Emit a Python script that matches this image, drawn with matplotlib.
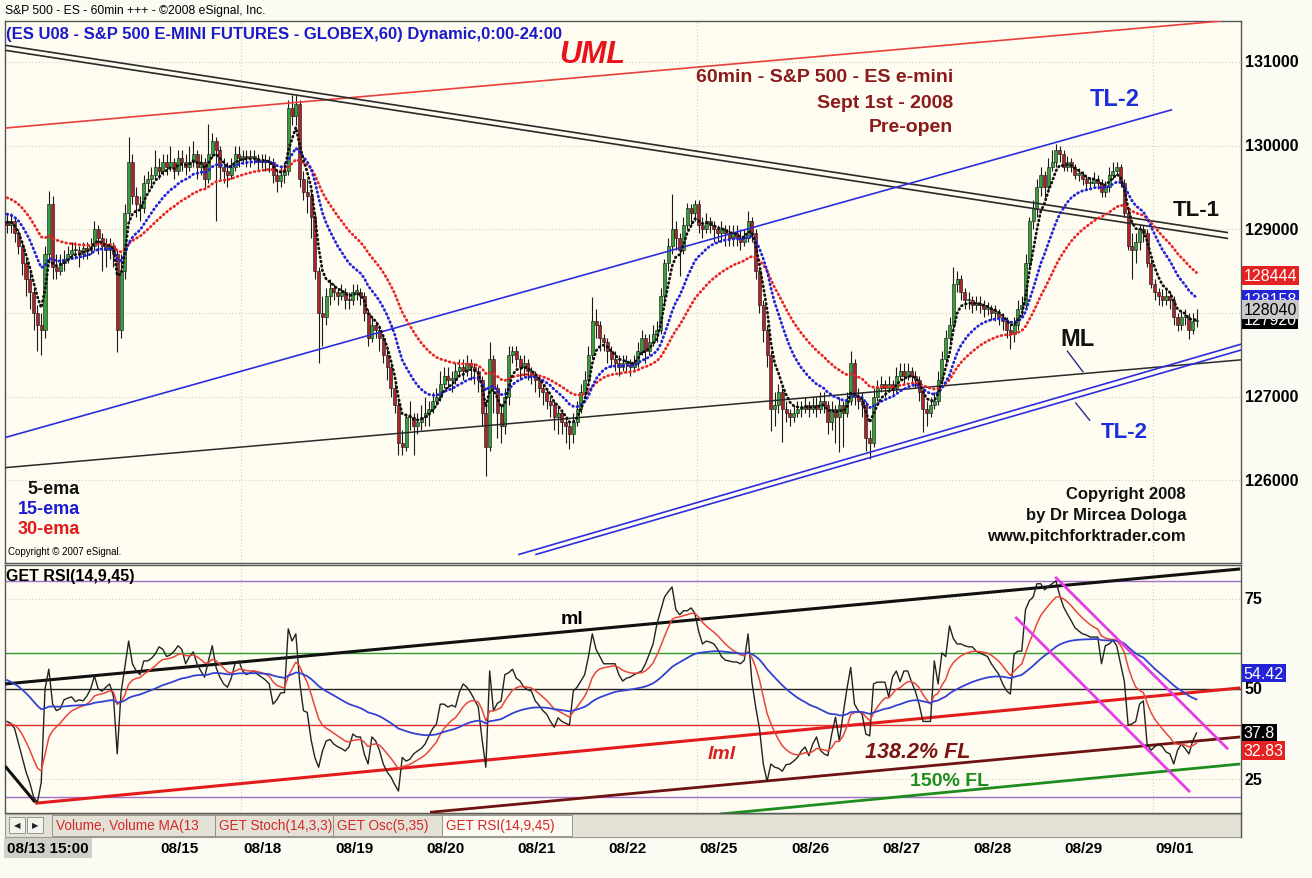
import numpy as np
import matplotlib
matplotlib.use("Agg")
import matplotlib.pyplot as plt
from matplotlib.patches import Rectangle
from matplotlib.lines import Line2D

plt.rcParams["font.family"] = ["Liberation Sans", "DejaVu Sans"]

# ES U08 hourly bars, 08/13 15:00 -> 09/01 (index points)
close = [
    1290.5, 1291, 1289.5, 1288, 1286, 1284, 1282.5, 1280, 1278.5, 1278,
    1287, 1293, 1285.5, 1285, 1286, 1286.5, 1287, 1287.5, 1287.5, 1287,
    1287.8, 1287.5, 1288, 1290, 1289, 1288, 1287.5, 1288, 1287, 1278,
    1285, 1292, 1298, 1294, 1293, 1292.5, 1295.5, 1296, 1296.5, 1297.5,
    1297, 1298, 1297.5, 1298, 1297, 1298.5, 1298, 1297.5, 1298, 1299,
    1297.5, 1298, 1296, 1299, 1300.5, 1299.5, 1297.5, 1297, 1296.5, 1297.5,
    1299, 1298.5, 1298.8, 1298.5, 1298.5, 1298.5, 1298, 1298.2, 1298, 1298,
    1296.5, 1295.8, 1296.5, 1297, 1304.5, 1303.5, 1305, 1296, 1294.5, 1294,
    1291.5, 1285, 1280, 1279.5, 1282, 1283, 1282.5, 1282, 1282.5, 1281.5,
    1281.5, 1282.5, 1282.5, 1282, 1280, 1277, 1278.5, 1278, 1277, 1275,
    1273.5, 1271, 1269, 1264.5, 1264, 1267.5, 1267.5, 1266.5, 1267, 1267.5,
    1268, 1268.5, 1269.5, 1270, 1271.5, 1272.5, 1272, 1272, 1273, 1273.5,
    1273, 1274, 1273.5, 1273, 1272, 1268, 1264, 1274.5, 1271, 1268,
    1266.5, 1270, 1275, 1275.5, 1274.5, 1273.5, 1274, 1273, 1272.5, 1272,
    1271, 1270.5, 1269.5, 1269, 1267.5, 1268, 1267, 1266.5, 1265.5, 1267,
    1268.5, 1270.5, 1272, 1275, 1279, 1278.5, 1277, 1276.5, 1275.5, 1274.5,
    1274, 1273.5, 1274, 1274, 1273.5, 1274, 1275.5, 1277, 1275.5, 1276.5,
    1277.5, 1278, 1282, 1286, 1288, 1290, 1289, 1287.5, 1290.5, 1292.5,
    1292, 1293, 1290.5, 1290, 1291, 1290.5, 1290, 1289.5, 1290, 1289.5,
    1289, 1289.5, 1289, 1288.5, 1289, 1291, 1289.5, 1285, 1281, 1278,
    1275, 1268.5, 1269, 1270.5, 1268.5, 1268, 1267.5, 1268, 1268.5, 1268.5,
    1269, 1268.5, 1269, 1268.5, 1269.5, 1269, 1267, 1268.5, 1267.5, 1269,
    1268, 1269.5, 1274, 1270, 1269.5, 1269, 1265, 1264.5, 1270, 1271,
    1271.5, 1271, 1271.5, 1271, 1272.5, 1273, 1272.5, 1273, 1272.5, 1272,
    1270.5, 1268.5, 1268, 1269, 1269.5, 1272, 1274.5, 1277, 1278.5, 1283.5,
    1284, 1282.5, 1281.5, 1281.5, 1281, 1281.2, 1281, 1280.5, 1280.5, 1280,
    1280, 1279.5, 1279, 1278, 1277.5, 1278.5, 1280.5, 1281, 1286, 1291,
    1292.5, 1295, 1296.5, 1295, 1297.5, 1298, 1299.5, 1299, 1297.5, 1298,
    1297.5, 1296.5, 1296.5, 1296, 1295.5, 1295.5, 1296, 1295.5, 1294.5, 1295,
    1296.5, 1297, 1297.5, 1295.5, 1292, 1288, 1287.5, 1288.5, 1290, 1289.5,
    1286, 1283.5, 1282.5, 1282, 1281.5, 1282, 1281.5, 1279.5, 1278.5, 1279.5,
    1279.5, 1278, 1279, 1279.2,
]
high = [
    1292, 1292, 1291.5, 1290, 1288.5, 1286.5, 1285, 1283, 1281, 1280,
    1288, 1294.6, 1294, 1287, 1287, 1287.5, 1288, 1288.5, 1288.5, 1288,
    1288.5, 1288.5, 1289, 1291, 1290.5, 1289.5, 1289, 1289, 1288.5, 1287.5,
    1287, 1293, 1301, 1299, 1295, 1294, 1296.5, 1297, 1297.5, 1299.5,
    1298.5, 1299, 1299, 1300, 1298.5, 1299.5, 1299.5, 1299, 1300, 1300.5,
    1299.5, 1299, 1298.5, 1302.6, 1301.5, 1301, 1300, 1298.5, 1298, 1298.5,
    1300, 1300, 1299.5, 1299.5, 1299.5, 1299.5, 1299, 1299, 1299, 1298.8,
    1298.5, 1297, 1297.5, 1298, 1305.5, 1306, 1306, 1305.5, 1297, 1296,
    1294.5, 1292, 1285.5, 1282, 1283, 1284, 1283.5, 1283, 1283.5, 1283,
    1282.5, 1283.5, 1283.5, 1283, 1282.5, 1280.5, 1279.5, 1279, 1278.5, 1277.5,
    1276, 1274, 1271.5, 1269.5, 1266, 1268, 1269.5, 1268, 1268, 1269,
    1270, 1269.5, 1270.5, 1271, 1273, 1273.5, 1273.5, 1273, 1274, 1274.5,
    1274.5, 1275, 1274.5, 1274, 1273.5, 1272.5, 1269, 1276.5, 1275, 1271.5,
    1269, 1271, 1276, 1276, 1276, 1275, 1275, 1274.5, 1273.5, 1273,
    1272.5, 1271.5, 1271, 1270, 1269.5, 1269, 1268.5, 1267.5, 1267, 1268,
    1269.5, 1271.5, 1273, 1276, 1281.9, 1280.5, 1279, 1277.5, 1277, 1276,
    1275.5, 1275, 1275, 1275, 1274.5, 1275, 1276.5, 1278, 1277.5, 1277.5,
    1278.5, 1279, 1283, 1286.5, 1289, 1294.2, 1291, 1289.5, 1291.5, 1293.2,
    1293, 1293.5, 1293.5, 1291.5, 1292, 1291.5, 1291, 1290.5, 1291, 1290.5,
    1290.5, 1290.5, 1290.5, 1290, 1290, 1292.2, 1291.5, 1290, 1285.5, 1281.5,
    1278.5, 1275.5, 1270.5, 1271.5, 1271, 1269.5, 1268.5, 1269, 1269.5, 1269.5,
    1270, 1269.5, 1270, 1270, 1270.5, 1270.5, 1269.5, 1269.5, 1269, 1270,
    1269.5, 1270.5, 1275.5, 1274.5, 1271, 1270.5, 1269.5, 1266, 1271, 1272,
    1272.5, 1272, 1272.5, 1272, 1273.5, 1274, 1274, 1274, 1273.5, 1273,
    1272.5, 1271, 1269.5, 1270, 1270.5, 1273, 1275.5, 1278, 1279.5, 1285.5,
    1285, 1284.5, 1283, 1282.5, 1282, 1282, 1282, 1281.5, 1281.3, 1281,
    1281, 1280.5, 1280, 1279.5, 1278.5, 1279.5, 1281.5, 1282, 1287, 1291.5,
    1293.5, 1296, 1297.5, 1297, 1298.5, 1299.5, 1300.2, 1300, 1299.5, 1298.8,
    1298.5, 1297.8, 1297.3, 1297, 1296.5, 1296.3, 1296.8, 1296.5, 1296, 1295.8,
    1297.5, 1298, 1298, 1297.8, 1296, 1292.5, 1289.5, 1289.5, 1290.5, 1290.5,
    1290, 1286.5, 1284, 1283, 1282.8, 1283, 1282.5, 1282, 1280, 1280.3,
    1280.5, 1280, 1280, 1280.5,
]
low = [
    1289.5, 1289.5, 1288.5, 1287, 1284.5, 1282, 1280.5, 1278, 1275.5, 1275,
    1277, 1286, 1284, 1284, 1284.5, 1285, 1286, 1286.5, 1286.5, 1285.5,
    1286.5, 1286.5, 1287, 1287.5, 1287, 1285, 1285.5, 1286.5, 1285.5, 1275.3,
    1277, 1284, 1291, 1293, 1291.5, 1291, 1292, 1294.5, 1295, 1296,
    1296, 1296.5, 1296.5, 1297, 1296, 1296.5, 1297, 1296.5, 1297, 1297.5,
    1296, 1296.5, 1295, 1295.5, 1298.5, 1291, 1296, 1295.5, 1295, 1296,
    1297, 1297.5, 1297.8, 1297.5, 1297.5, 1297.8, 1297, 1297.3, 1297, 1296.8,
    1295.5, 1294.5, 1295, 1295.5, 1296.5, 1302.5, 1302.5, 1295, 1293.5, 1292,
    1289, 1284, 1274, 1276, 1278.5, 1281, 1281.5, 1281, 1281.5, 1280.5,
    1280.5, 1281, 1281.5, 1281, 1279, 1276, 1276.5, 1277, 1275.5, 1274,
    1272, 1270, 1268, 1263, 1263, 1263.5, 1266, 1263, 1265.5, 1266,
    1266.5, 1266.5, 1268, 1269, 1269.5, 1271, 1271, 1270.5, 1271.5, 1272.5,
    1272, 1272.5, 1272, 1271.5, 1270.5, 1266.5, 1260.5, 1263.5, 1268, 1265,
    1264.5, 1265.5, 1269, 1274, 1273.5, 1272, 1272.5, 1272, 1271.5, 1270.5,
    1270, 1269, 1268.5, 1267.5, 1266, 1265.5, 1265.5, 1264.5, 1263.7, 1264.5,
    1266.5, 1268, 1270, 1271.5, 1274.5, 1277, 1275.5, 1275.5, 1274, 1273.5,
    1273, 1272.5, 1273, 1273, 1272.5, 1273, 1273.5, 1275, 1274, 1275,
    1276, 1276.5, 1277.5, 1281, 1285, 1287, 1287.5, 1284.4, 1287, 1290,
    1290.5, 1291, 1289.5, 1289, 1289.5, 1289.5, 1288.5, 1288.5, 1288.5, 1288,
    1288, 1288, 1288, 1287.5, 1288, 1288.5, 1288.5, 1284, 1280, 1276.5,
    1273.5, 1265.9, 1266.5, 1268, 1264.6, 1267, 1266.5, 1267, 1267.5, 1267.5,
    1268, 1267.5, 1268, 1267.5, 1268, 1268, 1265.5, 1266, 1264.5, 1263.4,
    1264, 1267.5, 1269, 1269, 1268.5, 1267.5, 1263.5, 1262.5, 1264, 1269.5,
    1270.5, 1270, 1270.5, 1270, 1270.5, 1272, 1271.5, 1272, 1271.5, 1271,
    1269.5, 1265.8, 1266.5, 1267.5, 1268.5, 1269, 1271.5, 1274, 1276.5, 1278,
    1282.5, 1281.5, 1280.5, 1280.5, 1280, 1280.3, 1280, 1279.5, 1279.7, 1279.2,
    1279, 1278.5, 1278, 1277, 1275.7, 1276.5, 1278, 1279.5, 1280.5, 1285.5,
    1290, 1291.5, 1294, 1293.5, 1294.5, 1297, 1297.5, 1298, 1297, 1297,
    1296.8, 1296, 1295.8, 1295.3, 1294.8, 1294.8, 1295, 1294.8, 1293.8, 1293.8,
    1294.5, 1296, 1296.5, 1295, 1291.5, 1287.5, 1284, 1286, 1287.5, 1288.5,
    1285.5, 1283, 1281.5, 1281, 1280.8, 1281, 1280.5, 1278.5, 1277.8, 1278,
    1278.5, 1276.9, 1277.5, 1278.3,
]
first_open = 1291.0

# RSI(14) values per bar
rsi = [
    41, 40.5, 39, 35, 31, 27, 24, 20, 18.6, 24,
    50, 55.5, 45.8, 44, 44.5, 47, 47.5, 47.8, 46.5, 47,
    46.7, 48, 50, 53.6, 50, 49.4, 50.5, 51.4, 48, 32,
    49, 56, 63.3, 57, 55, 54, 57.8, 57.8, 58.5, 59.7,
    61.7, 61, 59, 59.5, 60.5, 62, 61, 57, 59, 60.3,
    57, 55, 53.3, 57.8, 62, 56, 53.3, 51.4, 50.5, 53,
    57, 57.8, 55, 54, 54.5, 55, 54, 53.3, 52.5, 51.4,
    45.8, 47, 48.9, 49, 66.7, 63.3, 65.3, 52, 44, 43.5,
    36, 31, 28.3, 32.8, 35.6, 36, 34.7, 34, 33.5, 32.8,
    34, 37.5, 36.7, 36.7, 32, 29.2, 36.7, 35.6, 33, 29.2,
    27, 25.6, 23.5, 21.7, 31, 30, 30.5, 32, 32.8, 33.5,
    34.7, 37, 39, 40.3, 45.8, 45.8, 45, 45.5, 45, 49,
    51.4, 50.5, 49, 47, 45, 36, 28.3, 55, 44, 46,
    46.7, 54, 54.5, 55.5, 53, 52.2, 50.5, 49.8, 49.4, 46.7,
    45.5, 44, 43, 41, 39.4, 42, 41, 40.5, 40, 49.4,
    50.5, 52.2, 54, 59, 65.3, 61, 59, 57, 57, 57,
    57, 54, 52.2, 53, 53.3, 54, 54.5, 55, 57, 59.7,
    62.5, 68, 71.7, 75.5, 77, 78.3, 72, 70.6, 71.7, 71.7,
    72.5, 71, 66, 62.5, 63.3, 63, 62.5, 61, 59, 58,
    57.8, 57.5, 57.5, 57, 58, 65.3, 52, 45, 39, 29.2,
    24.4, 29.2, 28.3, 28, 27.2, 29, 29.2, 30, 31, 32.8,
    33.9, 31.5, 34.7, 36.7, 33, 32, 31.5, 37.5, 42.2, 35.6,
    43, 50, 56, 45.8, 44, 43, 37.5, 37, 51.4, 51.9,
    51.9, 51.9, 47.8, 53.3, 55, 52, 55, 55, 52, 49.4,
    45.8, 41, 41, 41, 57.8, 51.4, 60, 59, 67.5, 64,
    62.5, 62.5, 62, 61.7, 61.7, 60.5, 60, 59.5, 59, 57,
    55.5, 54, 51.4, 49.5, 48.6, 59.7, 60.5, 60.5, 72, 74.5,
    75.5, 79.2, 79.2, 77.5, 78.5, 79.2, 80, 76, 72.8, 70.8,
    69, 67, 66.1, 65.3, 65, 64.4, 64.4, 64.4, 57, 62,
    62.5, 63.5, 62, 57, 52.2, 40, 40.3, 41, 45.8, 46.7,
    34.7, 33, 34, 34.7, 34, 32.5, 32, 29.2, 33, 34.7,
    33.5, 32, 35.6, 37.8,
]

# starting values of the averages at the left edge
ema_seed = {5: 1291.0, 15: 1292.0, 30: 1294.0}
rsi_avg_seed = {9: 40.0, 45: 53.0}

day_labels = ["08/13 15:00", "08/15", "08/18", "08/19", "08/20", "08/21", "08/22",
              "08/25", "08/26", "08/27", "08/28", "08/29", "09/01"]
day_pos = [0, 40, 62, 86, 110, 134, 158, 182, 206, 230, 254, 278, 302]
week_pos = [62, 182, 302]

# hand drawn lines (bar index, price)
uml = [(-0.5, 1302.1), (319.5, 1314.9)]
tl1_a = [(-0.5, 1312.0), (321.3, 1289.6)]
tl1_b = [(-0.5, 1311.4), (321.3, 1288.9)]
tl2_up = [(-0.5, 1265.1), (306.6, 1304.3)]
ml_line = [(-0.5, 1261.5), (325, 1274.4)]
tl2_lo_a = [(134.5, 1251.1), (325, 1276.3)]
tl2_lo_b = [(139, 1251.1), (325, 1275.6)]
ptr_ml = [(278.9, 1275.5), (283.2, 1272.9)]
ptr_tl2 = [(281.1, 1269.3), (285, 1267.1)]

# hand drawn lines on RSI (bar index, RSI)
rsi_ml = [(-0.5, 51.4), (324.5, 83.3)]
rsi_ml_left = [(-0.5, 28.6), (7.4, 18.6)]
rsi_lml = [(7.4, 18.3), (324.5, 50.3)]
fl_1382 = [(111.3, 15.8), (324.5, 36.7)]
fl_150 = [(187.6, 15.3), (324.5, 29.2)]
mag_1 = [(275.8, 81.1), (321.3, 33.3)]
mag_2 = [(265.3, 70.0), (311.3, 21.4)]
rsi_levels = [(80, "#a070c8"), (60, "#2e9a2e"), (50, "#222222"), (40, "#e03030"), (20, "#a070c8")]

price_ticks = [1260, 1270, 1290, 1300, 1310]
last_tags = [("128158", 1281.58, "#2323d8", "white"),
             ("127920", 1279.20, "black", "white"),
             ("128040", 1280.40, "#c9c9c9", "black"),
             ("128444", 1284.44, "#e52222", "white")]
rsi_ticks = [75, 50, 25]
rsi_tags = [("54.42", 54.42, "#2323d8", "white"),
            ("37.8", 37.8, "black", "white"),
            ("32.83", 32.83, "#e52222", "white")]


def ema(vals, n, seed):
    a = 2.0 / (n + 1)
    e = seed
    out = []
    for v in vals:
        e = e + a * (v - e)
        out.append(e)
    return np.array(out)


W, H = 1312, 879
BG = "#fffdf1"
fig = plt.figure(figsize=(W / 100, H / 100), dpi=100, facecolor="#fbfaf3")


def fx(px):
    return px / W


def fy(py):
    return 1 - py / H


ax = fig.add_axes([fx(5), fy(564), fx(1241) - fx(5), fy(22) - fy(564)], facecolor=BG)
ax2 = fig.add_axes([fx(5), fy(814), fx(1241) - fx(5), fy(566) - fy(814)], facecolor=BG)

c = np.array(close)
h = np.array(high)
l = np.array(low)
o = np.concatenate([[first_open], c[:-1]])
idx = np.arange(len(c))
up = c >= o
body = np.where(np.abs(c - o) < 0.2, 0.2, c - o)

# grid
for v in range(1260, 1311, 10):
    ax.axhline(v, color="#cfcfc4", lw=0.8, ls=(0, (1, 2)), zorder=0)
for x in week_pos:
    ax.axvline(x - 0.5, color="#cfcfc4", lw=0.8, ls=(0, (1, 2)), zorder=0)
    ax2.axvline(x - 0.5, color="#cfcfc4", lw=0.8, ls=(0, (1, 2)), zorder=0)
for v in (25, 75):
    ax2.axhline(v, color="#cfcfc4", lw=0.8, ls=(0, (1, 2)), zorder=0)

# candles
ax.vlines(idx, l, h, color="#1a1a1a", lw=0.8, zorder=2)
ax.bar(idx, body, bottom=o, width=0.8, color=np.where(up, "#35a03a", "#a8262b"),
       edgecolor="#111111", linewidth=0.4, zorder=3)

# trend lines
def seg(axis, pts, color, lw, z=4):
    axis.plot([pts[0][0], pts[1][0]], [pts[0][1], pts[1][1]], color=color, lw=lw,
              zorder=z, solid_capstyle="butt")

seg(ax, uml, "#e8403a", 1.2)
seg(ax, tl1_a, "#2a2a2a", 1.2)
seg(ax, tl1_b, "#2a2a2a", 1.2)
seg(ax, tl2_up, "#2d2de0", 1.2)
seg(ax, ml_line, "#2a2a2a", 1.1)
seg(ax, tl2_lo_a, "#2d2de0", 1.2)
seg(ax, tl2_lo_b, "#2d2de0", 1.2)
seg(ax, ptr_ml, "#2a2a80", 1.0)
seg(ax, ptr_tl2, "#2a2a80", 1.0)

# moving averages
dots = dict(ls=(0, (0.3, 1.3)), lw=2.0, dash_capstyle="round", zorder=5)
ax.plot(idx, ema(c, 30, ema_seed[30]), color="#e82525", **dots)
ax.plot(idx, ema(c, 15, ema_seed[15]), color="#2222d8", **dots)
ax.plot(idx, ema(c, 5, ema_seed[5]), color="#111111", **dots)

ax.set_xlim(-0.53, 324.7)
ax.set_ylim(1250.1, 1314.9)
ax.set_xticks([])
ax.set_yticks([])

lab_tr = ax.get_yaxis_transform()
for v in price_ticks:
    ax.text(1.003, v, f"{v * 100:d}", transform=lab_tr, va="center", ha="left",
            fontsize=11.5, fontweight="bold", clip_on=False)
for s, v, fc, tc in last_tags:
    ax.text(1.002, v, s, transform=lab_tr, va="center", ha="left", fontsize=11.5,
            color=tc, clip_on=False,
            bbox=dict(boxstyle="square,pad=0.12", fc=fc, ec="none"))

# RSI panel
r = np.array(rsi)
for v, col in rsi_levels:
    ax2.axhline(v, color=col, lw=1.0, zorder=1)
ax2.plot(idx, r, color="#222222", lw=1.0, zorder=4)
ax2.plot(idx, ema(r, 9, rsi_avg_seed[9]), color="#e8463c", lw=1.1, zorder=4)
ax2.plot(idx, ema(r, 45, rsi_avg_seed[45]), color="#3342d0", lw=1.3, zorder=4)
seg(ax2, rsi_ml, "#111111", 2.2, 3)
seg(ax2, rsi_ml_left, "#111111", 2.2, 3)
seg(ax2, rsi_lml, "#e21c1c", 2.2, 3)
seg(ax2, fl_1382, "#6e1212", 2.0, 3)
seg(ax2, fl_150, "#1e8c1e", 2.0, 3)
seg(ax2, mag_1, "#e23ee2", 2.0, 5)
seg(ax2, mag_2, "#e23ee2", 2.0, 5)
ax2.set_xlim(-0.53, 324.7)
ax2.set_ylim(15.6, 84.4)
ax2.set_xticks([])
ax2.set_yticks([])
lab_tr2 = ax2.get_yaxis_transform()
for v in rsi_ticks:
    ax2.text(1.003, v, str(v), transform=lab_tr2, va="center", ha="left",
             fontsize=11.5, fontweight="bold", clip_on=False)
for s, v, fc, tc in rsi_tags:
    ax2.text(1.002, v, s, transform=lab_tr2, va="center", ha="left", fontsize=11.5,
             color=tc, clip_on=False,
             bbox=dict(boxstyle="square,pad=0.12", fc=fc, ec="none"))

for a in (ax, ax2):
    for sp in a.spines.values():
        sp.set_color("#555555")
        sp.set_linewidth(1.0)

# header and annotations
fig.text(fx(5), fy(11), "S&P 500 - ES - 60min +++ - \u00a92008 eSignal, Inc.", fontsize=8.7,
         va="center", ha="left")
fig.text(fx(6), fy(34), "(ES U08 - S&P 500 E-MINI FUTURES - GLOBEX,60) Dynamic,0:00-24:00",
         fontsize=12, fontweight="bold", color="#1a1ac8", va="center", ha="left")
fig.text(fx(592), fy(55), "UML", fontsize=22, fontweight="bold", fontstyle="italic",
         color="#e8141b", va="center", ha="center")
for yy, s in [(78, "60min - S&P 500 - ES e-mini"), (103, "Sept 1st - 2008"), (128, "Pre-open")]:
    fig.text(fx(953), fy(yy), s, fontsize=14, fontweight="bold", color="#8b1a1a",
             va="center", ha="right")
fig.text(fx(1115), fy(100), "TL-2", fontsize=17, fontweight="bold", color="#1a2fd8",
         va="center", ha="center")
fig.text(fx(1196), fy(210), "TL-1", fontsize=16, fontweight="bold", color="#111111",
         va="center", ha="center")
fig.text(fx(1078), fy(340), "ML", fontsize=17, fontweight="bold", color="#111111",
         va="center", ha="center")
fig.text(fx(1124), fy(433), "TL-2", fontsize=16, fontweight="bold", color="#1a2fd8",
         va="center", ha="center")
for yy, s, col in [(490, "5-ema", "#111111"), (510, "15-ema", "#1a1ad0"), (530, "30-ema", "#e01818")]:
    fig.text(fx(80), fy(yy), s, fontsize=13, fontweight="bold", color=col,
             va="center", ha="right")
fig.text(fx(8), fy(552), "Copyright \u00a9 2007 eSignal.", fontsize=7, va="center", ha="left")
for yy, s in [(495, "Copyright 2008"), (516, "by Dr Mircea Dologa"), (537, "www.pitchforktrader.com")]:
    fig.text(fx(1186), fy(yy), s, fontsize=12, fontweight="bold", color="#111111",
             va="center", ha="right")

fig.text(fx(6), fy(577), "GET RSI(14,9,45)", fontsize=11.5, fontweight="bold", va="center", ha="left")
fig.text(fx(572), fy(620), "ml", fontsize=14, fontweight="bold", va="center", ha="center")
fig.text(fx(722), fy(755), "lml", fontsize=14, fontweight="bold", fontstyle="italic",
         color="#d82020", va="center", ha="center")
fig.text(fx(918), fy(753), "138.2% FL", fontsize=15.5, fontweight="bold", fontstyle="italic",
         color="#7a1515", va="center", ha="center")
fig.text(fx(950), fy(781), "150% FL", fontsize=14, fontweight="bold",
         color="#1e8c1e", va="center", ha="center")

# tab bar
fig.patches.append(Rectangle((fx(5), fy(838)), fx(1241) - fx(5), fy(815) - fy(838),
                             transform=fig.transFigure, fc="#e4e2d6", ec="#9a9a90", lw=0.8))
for x0, s in [(9, "\u25c0"), (27, "\u25b6")]:
    fig.patches.append(Rectangle((fx(x0), fy(834)), fx(16), fy(818) - fy(834),
                                 transform=fig.transFigure, fc="#f4f4ee", ec="#8a8a80", lw=0.6))
    fig.text(fx(x0 + 8), fy(826), s, fontsize=6, ha="center", va="center",
             family="DejaVu Sans", color="#222222")
tabs = [(52, 215, "Volume, Volume MA(13", "#e4e2d6"), (215, 333, "GET Stoch(14,3,3)", "#e4e2d6"),
        (333, 442, "GET Osc(5,35)", "#e4e2d6"), (442, 572, "GET RSI(14,9,45)", "#fbfaf0")]
for x0, x1, s, fc in tabs:
    fig.patches.append(Rectangle((fx(x0), fy(837)), fx(x1 - x0), fy(816) - fy(837),
                                 transform=fig.transFigure, fc=fc, ec="#8a8a80", lw=0.6))
    fig.text(fx(x0 + 4), fy(826), s, fontsize=9.8, color="#d42828", ha="left", va="center")

fig.add_artist(Line2D([fx(1241), fx(1241)], [fy(814), fy(838)], color="#555555", lw=1.0))

# date labels
xt = ax2.transData
for pos, s in zip(day_pos, day_labels):
    xf = fig.transFigure.inverted().transform(xt.transform((pos - 0.5, 0)))[0]
    if pos == 0:
        fig.text(fx(7), fy(849), s, fontsize=11, fontweight="bold", ha="left", va="center",
                 bbox=dict(boxstyle="square,pad=0.2", fc="#cfcfc8", ec="none"))
    else:
        fig.text(xf + fx(3), fy(849), s, fontsize=11, fontweight="bold", ha="left", va="center")

fig.savefig("out.png", dpi=100, facecolor=fig.get_facecolor())
